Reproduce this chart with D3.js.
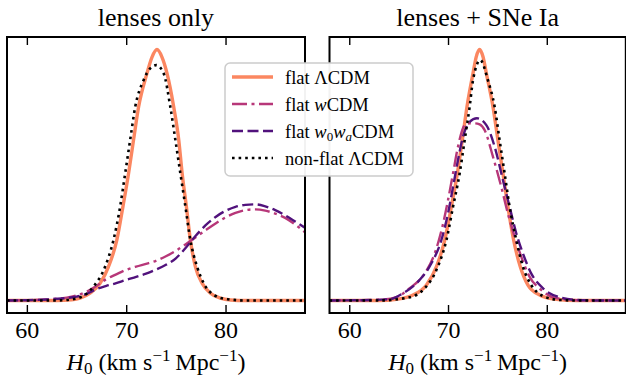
<!DOCTYPE html>
<html>
<head>
<meta charset="utf-8">
<script src="https://cdn.jsdelivr.net/npm/d3@7"></script>
<style>
  body { margin: 0; background: #fff; }
  svg { display: block; font-family: "Liberation Serif", "DejaVu Serif", serif; }
  svg text { font-family: "Liberation Serif", "DejaVu Serif", serif; }
</style>
</head>
<body>
<div id="chart"></div>
<script>
// H0 posteriors, [H0, density]
var xTicks = [60, 70, 80];
var panelTitles = ["lenses only", "lenses + SNe Ia"];

var lensFlatLCDM = [[58,0],[63,0],[64.5,0.003],[65.35,0.009],[66.36,0.029],[67.37,0.068],[68.21,0.134],[69.06,0.241],[69.67,0.374],[70.24,0.507],[70.74,0.64],[71.25,0.772],[72.09,0.905],[72.6,0.97],[73.1,1.0],[73.6,0.97],[74.11,0.905],[74.78,0.772],[75.29,0.64],[75.63,0.507],[76.06,0.374],[76.46,0.241],[76.97,0.134],[77.65,0.068],[78.48,0.029],[79.49,0.009],[80.5,0.002],[82,0],[88,0]];
var lensWCDM = [[58,0],[60,0.001],[62.8,0.006],[64.5,0.015],[66,0.035],[67,0.058],[68,0.085],[69,0.104],[70,0.122],[71,0.135],[72,0.146],[73,0.158],[74,0.176],[75,0.198],[76,0.224],[77,0.252],[78,0.28],[79,0.307],[80,0.331],[81,0.349],[82,0.36],[83,0.363],[84,0.358],[85,0.346],[86,0.329],[87,0.303],[88,0.272]];
var lensW0WaCDM = [[58,0],[60,0.001],[62,0.004],[63.5,0.008],[65,0.015],[66,0.026],[67,0.045],[68,0.058],[69,0.069],[70,0.082],[71,0.094],[72,0.107],[73,0.123],[74,0.142],[75,0.168],[76,0.21],[77,0.258],[78,0.3],[79,0.333],[80,0.357],[81,0.373],[82,0.381],[83,0.383],[84,0.375],[85,0.36],[86,0.339],[87,0.315],[88,0.29]];
var lensNonFlatLCDM = [[58,0],[63,0],[65,0.008],[66.7,0.055],[67.88,0.135],[68.72,0.241],[69.39,0.374],[69.9,0.507],[70.4,0.64],[70.91,0.772],[71.75,0.878],[72.42,0.925],[73.03,0.938],[73.77,0.905],[74.44,0.772],[74.95,0.64],[75.45,0.507],[75.96,0.374],[76.46,0.241],[77.14,0.134],[77.81,0.068],[78.82,0.022],[80.17,0.005],[82,0],[88,0]];

var snFlatLCDM = [[58,0],[63,0],[64.79,0.005],[66.46,0.022],[67.82,0.062],[68.83,0.135],[69.67,0.241],[70.34,0.374],[70.95,0.507],[71.45,0.64],[71.92,0.772],[72.53,0.905],[72.85,0.97],[73.2,1.0],[73.55,0.97],[73.88,0.905],[74.55,0.772],[75.05,0.64],[75.56,0.507],[76.06,0.374],[76.64,0.241],[77.31,0.135],[78.08,0.062],[79.26,0.022],[80.95,0.005],[83,0],[88,0]];
var snWCDM = [[58,0],[61,0.001],[63.5,0.004],[64.79,0.013],[66.13,0.049],[67.65,0.108],[68.66,0.188],[69.43,0.294],[70,0.4],[70.51,0.507],[71.01,0.613],[71.69,0.699],[72.2,0.706],[72.7,0.706],[73.2,0.702],[73.71,0.679],[74.55,0.573],[75.39,0.453],[76.06,0.347],[76.74,0.254],[77.41,0.175],[78.25,0.095],[79.43,0.042],[80.95,0.009],[83,0.001],[88,0]];
var snW0WaCDM = [[58,0],[61,0.001],[64.11,0.005],[65.45,0.029],[66.97,0.075],[68.32,0.148],[69.33,0.241],[70,0.347],[70.51,0.453],[71.01,0.56],[71.52,0.653],[72.19,0.712],[72.93,0.726],[73.88,0.699],[74.72,0.613],[75.56,0.48],[76.23,0.374],[76.91,0.268],[77.58,0.188],[78.42,0.108],[79.6,0.049],[81.28,0.013],[83,0.002],[85,0],[88,0]];
var snNonFlatLCDM = [[58,0],[63,0],[66.13,0.013],[67.65,0.049],[68.83,0.122],[69.84,0.241],[70.51,0.374],[71.18,0.507],[71.69,0.64],[72.19,0.772],[72.53,0.878],[73.27,0.958],[74.04,0.878],[74.72,0.772],[75.22,0.64],[75.73,0.507],[76.23,0.374],[76.91,0.241],[77.58,0.135],[78.42,0.062],[79.6,0.018],[81.28,0.002],[83,0],[88,0]];

var models = [
  { key: "flat", color: "#fb8761", width: 3.4, dash: null },
  { key: "w", color: "#b73779", width: 2.4, dash: "15,4.5,3,4.5" },
  { key: "w0wa", color: "#51127c", width: 2.4, dash: "11,4.5" },
  { key: "nonflat", color: "#000000", width: 2.6, dash: "2.6,4" }
];

var panels = [
  { title: panelTitles[0], x0: 7, x1: 305, series: [lensFlatLCDM, lensWCDM, lensW0WaCDM, lensNonFlatLCDM] },
  { title: panelTitles[1], x0: 329.5, x1: 625.8, series: [snFlatLCDM, snWCDM, snW0WaCDM, snNonFlatLCDM] }
];

var W = 626, H = 383, plotTop = 37, plotBottom = 313;
var serif = "Liberation Serif, DejaVu Serif, serif";

var svg = d3.select("#chart").append("svg")
  .attr("width", W).attr("height", H);

var y = d3.scaleLinear().domain([-0.05, 1.05]).range([plotBottom, plotTop]);

panels.forEach(function(p, pi) {
  var x = d3.scaleLinear().domain([58, 88]).range([p.x0, p.x1]);

  var clipId = "clip" + pi;
  svg.append("clipPath").attr("id", clipId)
    .append("rect")
    .attr("x", p.x0).attr("y", plotTop)
    .attr("width", p.x1 - p.x0).attr("height", plotBottom - plotTop);

  var line = d3.line()
    .x(function(d) { return x(d[0]); })
    .y(function(d) { return y(d[1]); })
    .curve(d3.curveMonotoneX);

  var g = svg.append("g").attr("clip-path", "url(#" + clipId + ")");
  p.series.forEach(function(s, i) {
    var m = models[i];
    g.append("path")
      .datum(s)
      .attr("d", line)
      .attr("fill", "none")
      .attr("stroke", m.color)
      .attr("stroke-width", m.width)
      .attr("stroke-dasharray", m.dash);
  });

  // ticks, inward, bottom and top
  var ax = d3.axisBottom(x).tickValues(xTicks).tickSize(-8);
  var axB = svg.append("g").attr("transform", "translate(0," + plotBottom + ")").call(ax);
  axB.attr("font-family", serif).attr("font-size", 24);
  axB.select(".domain").remove();
  axB.selectAll(".tick line").attr("stroke", "#000").attr("stroke-width", 1.4);
  axB.selectAll(".tick text").attr("fill", "#000").attr("y", 8);

  var axT = svg.append("g").attr("transform", "translate(0," + plotTop + ")")
    .call(d3.axisTop(x).tickValues(xTicks).tickSize(-8).tickFormat(""));
  axT.select(".domain").remove();
  axT.selectAll(".tick line").attr("stroke", "#000").attr("stroke-width", 1.4);

  // frame
  svg.append("rect")
    .attr("x", p.x0).attr("y", plotTop)
    .attr("width", p.x1 - p.x0).attr("height", plotBottom - plotTop)
    .attr("fill", "none").attr("stroke", "#000").attr("stroke-width", 2);

  var cx = (p.x0 + p.x1) / 2;
  svg.append("text")
    .attr("x", cx).attr("y", 26)
    .attr("text-anchor", "middle")
    .attr("font-size", 26)
    .text(p.title);

  // x label
  var lab = svg.append("text")
    .attr("x", cx).attr("y", 370)
    .attr("text-anchor", "middle")
    .attr("font-size", 24);
  lab.append("tspan").attr("font-style", "italic").text("H");
  lab.append("tspan").attr("font-size", 17).attr("dy", 4).text("0");
  lab.append("tspan").attr("dy", -4).text(" (km s");
  lab.append("tspan").attr("font-size", 17).attr("dy", -9).text("\u22121");
  lab.append("tspan").attr("dy", 9).text("\u2009Mpc");
  lab.append("tspan").attr("font-size", 17).attr("dy", -9).text("\u22121");
  lab.append("tspan").attr("dy", 9).text(")");
});

// legend
var leg = svg.append("g");
leg.append("rect")
  .attr("x", 225).attr("y", 63)
  .attr("width", 188).attr("height", 113)
  .attr("rx", 5).attr("ry", 5)
  .attr("fill", "#fff").attr("fill-opacity", 0.95)
  .attr("stroke", "#cccccc").attr("stroke-width", 1.5);

var legendLabels = [
  [["flat \u039BCDM", null]],
  [["flat ", null], ["w", "i"], ["CDM", null]],
  [["flat ", null], ["w", "i"], ["0", "sub"], ["w", "i"], ["a", "isub"], ["CDM", null]],
  [["non-flat \u039BCDM", null]]
];

models.forEach(function(m, i) {
  var ry = 77 + i * 27;
  leg.append("line")
    .attr("x1", 232).attr("x2", 273)
    .attr("y1", ry).attr("y2", ry)
    .attr("stroke", m.color)
    .attr("stroke-width", m.width)
    .attr("stroke-dasharray", m.dash);
  var t = leg.append("text")
    .attr("x", 285).attr("y", ry + 6.5)
    .attr("font-size", 18.5);
  var shifted = false;
  legendLabels[i].forEach(function(part) {
    var ts = t.append("tspan").text(part[0]);
    var isSub = part[1] === "sub" || part[1] === "isub";
    if (part[1] === "i" || part[1] === "isub") ts.attr("font-style", "italic");
    if (isSub) {
      ts.attr("font-size", 13);
      if (!shifted) { ts.attr("dy", 3.5); shifted = true; }
    } else if (shifted) {
      ts.attr("dy", -3.5); shifted = false;
    }
  });
});
</script>
</body>
</html>
